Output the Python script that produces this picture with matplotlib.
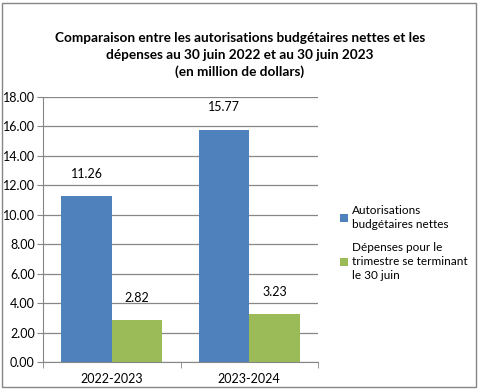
import matplotlib.pyplot as plt
from matplotlib.patches import Rectangle
import numpy as np

plt.rcParams['font.family'] = ['Lato', 'DejaVu Sans']

categories = ['2022-2023', '2023-2024']
autorisations = [11.26, 15.77]
depenses = [2.82, 3.23]
series_names = ['Autorisations\nbudgétaires nettes',
                'Dépenses pour le\ntrimestre se terminant\nle 30 juin']
yticks = np.arange(0, 18.01, 2)

W, H = 480, 391
fig = plt.figure(figsize=(W / 100, H / 100), dpi=100)

# plot area in pixel coords
left, right, top, bottom = 43, 318, 97, 362
ax = fig.add_axes([left / W, 1 - bottom / H, (right - left) / W, (bottom - top) / H])

x = np.arange(len(categories))
w = 0.367
b1 = ax.bar(x - w / 2, autorisations, w, color='#4F81BD', label=series_names[0])
b2 = ax.bar(x + w / 2, depenses, w, color='#9BBB59', label=series_names[1])

for bars, vals in [(b1, autorisations), (b2, depenses)]:
    for rect, v in zip(bars, vals):
        ax.annotate(f'{v:.2f}', (rect.get_x() + rect.get_width() / 2, v),
                    xytext=(0, 12), textcoords='offset points',
                    ha='center', va='bottom', fontsize=9)

ax.set_xlim(-0.5, 1.5)
ax.set_ylim(0, 18)
ax.set_yticks(yticks)
ax.set_yticklabels([f'{t:.2f}' for t in yticks], fontsize=9)
ax.set_xticks(x)
ax.set_xticklabels(categories, fontsize=9)
ax.set_xticks([-0.5, 0.5, 1.5], minor=True)
ax.tick_params(axis='x', which='major', length=0, pad=8)
ax.tick_params(axis='x', which='minor', length=4, color='#868686', direction='out')
ax.tick_params(axis='y', length=4, color='#868686', pad=2)

ax.yaxis.grid(True, color='#868686', linewidth=0.9)
ax.set_axisbelow(True)
for s in ['top', 'right']:
    ax.spines[s].set_visible(False)
ax.spines['left'].set_color('#868686')
ax.spines['bottom'].set_color('#868686')

fig.text(0.5, 1 - 55 / H, 'Comparaison entre les autorisations budgétaires nettes et les\n'
         'dépenses au 30 juin 2022 et au 30 juin 2023\n(en million de dollars)',
         ha='center', va='center', fontsize=9.8, fontweight='bold', linespacing=1.5)

fig.legend(handles=[b1, b2], loc='upper left', bbox_to_anchor=(334 / W, 1 - 199 / H),
           frameon=False, fontsize=8.5, handlelength=0.7, handleheight=0.7,
           handletextpad=0.3, labelspacing=1.0, borderpad=0)
for t in fig.legends[0].get_texts():
    t.set_linespacing(1.35)

fig.patches.append(Rectangle((2 / W, 1 - 387 / H), 474 / W, 384 / H, transform=fig.transFigure,
                             fill=False, edgecolor='#868686', linewidth=1))

fig.savefig('out.png', dpi=100)
